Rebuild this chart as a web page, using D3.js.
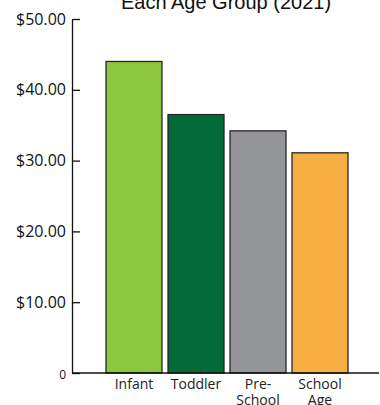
<!DOCTYPE html>
<html>
<head>
<meta charset="utf-8">
<script src="https://cdn.jsdelivr.net/npm/d3@7"></script>
<style>
  html, body { margin: 0; padding: 0; background: #fff; }
  svg { display: block; }
</style>
</head>
<body>
<script>
// Average weekly cost per child by age group (2021)
const categories = ["Infant", "Toddler", "Pre-School", "School Age"];
const categoryLabels = [["Infant"], ["Toddler"], ["Pre-", "School"], ["School", "Age"]];
const values = [44.0, 36.5, 34.2, 31.1];
const colors = ["#8dc63f", "#036937", "#939598", "#f7ae42"];
const yTicks = [0, 10, 20, 30, 40, 50];
const titleText = "Each Age Group (2021)";

const W = 380, H = 405;
const svg = d3.select("body").append("svg").attr("width", W).attr("height", H);

const axisX = 72, baseY = 373, topY = 19;

const y = d3.scaleLinear().domain([0, 50]).range([baseY, topY]);
const x = d3.scaleBand().domain(categories).range([106, 348]).paddingInner(0.097).paddingOuter(0);

// title (second line, partly above the frame)
svg.append("text")
  .attr("x", 226).attr("y", 9)
  .attr("text-anchor", "middle")
  .attr("font-family", "Liberation Sans, Arial, sans-serif")
  .attr("font-size", 20)
  .attr("fill", "#111")
  .text(titleText);

// bars
svg.append("g").selectAll("rect")
  .data(values)
  .join("rect")
  .attr("x", (d, i) => x(categories[i]))
  .attr("y", d => y(d))
  .attr("width", x.bandwidth())
  .attr("height", d => baseY - y(d))
  .attr("fill", (d, i) => colors[i])
  .attr("stroke", "#262626")
  .attr("stroke-width", 1.3);

// y axis with inward ticks and labels on the left
const yAxis = d3.axisLeft(y)
  .tickValues(yTicks)
  .tickSizeInner(-8)
  .tickSizeOuter(0)
  .tickPadding(6)
  .tickFormat(d => d === 0 ? "0" : "$" + d.toFixed(2));

const gy = svg.append("g").attr("transform", `translate(${axisX},0)`).call(yAxis);
gy.select(".domain").attr("stroke", "#111").attr("stroke-width", 1.3);
gy.selectAll(".tick line").attr("stroke", "#111").attr("stroke-width", 1.3);
gy.selectAll(".tick text")
  .attr("font-family", "Open Sans, sans-serif")
  .attr("font-size", d => d === 0 ? 12 : 16)
  .attr("dy", d => d === 0 ? "0.45em" : "0.32em")
  .attr("fill", "#111");

// baseline
svg.append("line")
  .attr("x1", axisX).attr("x2", 379)
  .attr("y1", baseY).attr("y2", baseY)
  .attr("stroke", "#111").attr("stroke-width", 1.3);

// category labels
const labels = svg.append("g")
  .attr("font-family", "Open Sans, sans-serif")
  .attr("font-size", 14)
  .attr("fill", "#222")
  .attr("text-anchor", "middle");

categories.forEach((c, i) => {
  const t = labels.append("text")
    .attr("x", x(c) + x.bandwidth() / 2)
    .attr("y", 389);
  categoryLabels[i].forEach((line, j) => {
    t.append("tspan")
      .attr("x", x(c) + x.bandwidth() / 2)
      .attr("dy", j === 0 ? 0 : 16)
      .text(line);
  });
});
</script>
</body>
</html>
